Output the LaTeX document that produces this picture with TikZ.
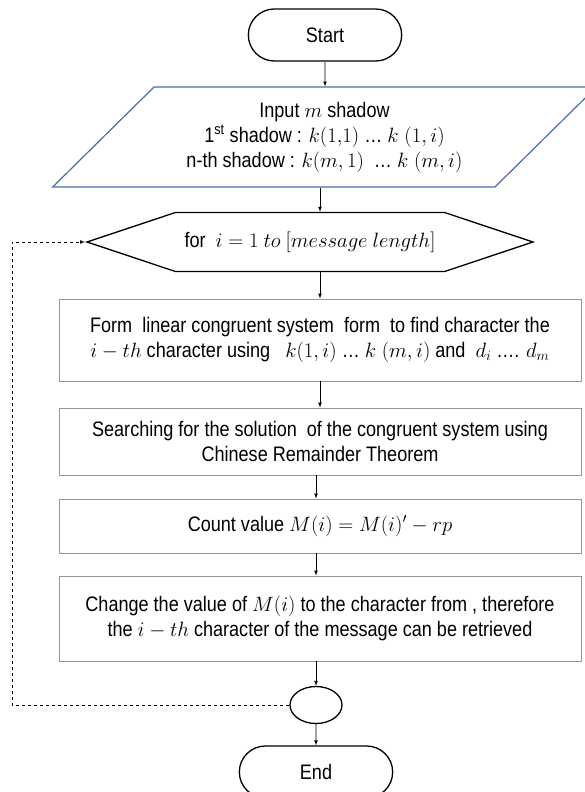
\documentclass[tikz,border=0pt]{standalone}
\usepackage{fontspec}
\setmainfont[FakeStretch=0.86]{Liberation Sans}
\usetikzlibrary{shapes.geometric,shapes.misc,shapes.symbols}
\definecolor{parablue}{RGB}{70,110,170}
\definecolor{boxgray}{RGB}{150,150,150}
\begin{document}
\begin{tikzpicture}[x=1pt, y=-1pt, >=latex,
  font=\fontsize{21}{25}\selectfont,
  term/.style={draw, line width=1.3pt, rounded rectangle, minimum width=160pt, minimum height=52pt},
  iobox/.style={draw=parablue, line width=1.2pt, trapezium, trapezium stretches=true,
    trapezium left angle=42.5, trapezium right angle=137.5,
    minimum width=545pt, minimum height=100pt, align=center},
  loopbox/.style={draw, line width=1.3pt, signal, signal to=west and east,
    signal pointer angle=36.9, minimum width=446pt, minimum height=59pt},
  stepbox/.style={draw=boxgray, line width=0.9pt, rectangle, minimum width=522pt, align=center},
  joint/.style={draw, line width=1.3pt, ellipse, minimum width=52pt, minimum height=37pt, inner sep=0pt},
  arr/.style={->, line width=0.7pt},
  loopline/.style={->, dashed, line width=0.7pt}]
  \useasboundingbox (0,0) rectangle (585,792);
  % nodes
  \node[term] (start) at (325,35) {Start};
  \node[iobox] (input) at (324.5,137) {Input $m$ shadow\\
    1\textsuperscript{st} shadow : $k(1{,}1)$ … $k\;(1,i)$\\
    n-th shadow : $k(m,1)$~ … $k\;(m,i)$};
  \node[loopbox] (loop) at (310,242) {for~ $i = 1\ to\ [message\ length]$};
  \node[stepbox, minimum height=82pt] (box1) at (320,340) {Form~ linear congruent system~ form~ to find character the\\
    $i-th$ character using~~ $k(1,i)$ … $k\;(m,i)$ and~ $d_i$ …. $d_m$};
  \node[stepbox, minimum height=67pt] (box2) at (320,441.5) {Searching for the solution~ of the congruent system using\\
    Chinese Remainder Theorem};
  \node[stepbox, minimum height=54pt] (box3) at (320,526) {Count value $M(i) = M(i)' - rp$};
  \node[stepbox, minimum height=85pt] (box4) at (320,618.5) {Change the value of $M(i)$ to the character from , therefore\\
    the $i-th$ character of the message can be retrieved};
  \node[joint] (join) at (316,705) {};
  \node[term] (end) at (316,772) {End};
  % connectors
  \draw[arr] (start) -- (start |- input.north);
  \draw[arr] (input.south -| box1) -- (loop.north -| box1);
  \draw[arr] (loop.south -| box1) -- (box1.north);
  \draw[arr] (box1) -- (box2);
  \draw[arr] (box2.south -| join) -- (box3.north -| join);
  \draw[arr] (box3.south -| join) -- (box4.north -| join);
  \draw[arr] (box4.south -| join) -- (join);
  \draw[arr] (join) -- (end);
  \draw[loopline] (join.west) -- ++(-277,0) |- (loop.west);
\end{tikzpicture}
\end{document}
